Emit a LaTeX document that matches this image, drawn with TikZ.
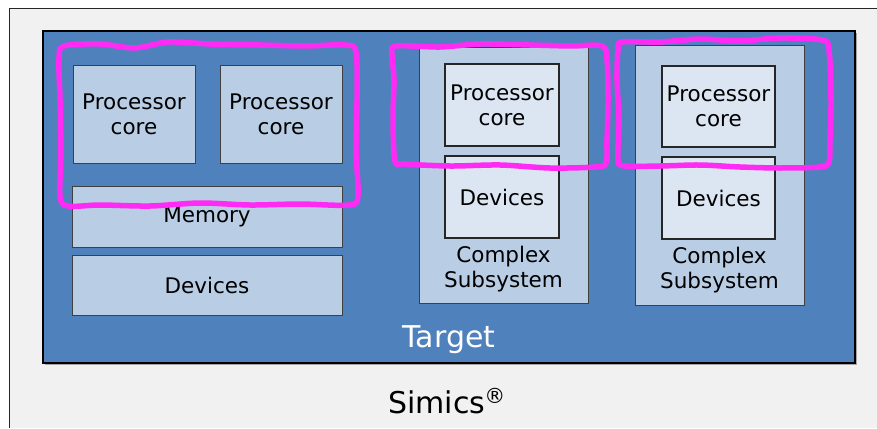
\documentclass[tikz,border=0pt]{standalone}
\usepackage{fontspec}
\setmainfont{DejaVu Sans}
\begin{document}
\begin{tikzpicture}[x=1pt,y=-1pt,
  every node/.style={font=\fontsize{21.5}{25}\selectfont, align=center, inner sep=0pt},
  lbox/.style={draw=black!75, line width=1pt, fill=boxlight},
  xbox/.style={draw=black!85, line width=1.4pt, fill=boxlighter},
  hand/.style={draw=handmag, line width=5.5pt, line join=round}
]
\definecolor{targetblue}{HTML}{4F81BD}
\definecolor{boxlight}{HTML}{B9CDE5}
\definecolor{boxlighter}{HTML}{DCE6F2}
\definecolor{outergray}{HTML}{F1F1F1}
\definecolor{handmag}{HTML}{FF2BF4}
\useasboundingbox (0,0) rectangle (877,428);
% outer Simics box
\fill[outergray] (9.5,8.5) rectangle (877,428);
\draw[line width=1.6pt, black!85] (877,8.5) -- (9.5,8.5) -- (9.5,428);
% target shadow and box
\fill[black!35] (45,33) rectangle (857,365);
\node[draw=black, line width=1.5pt, fill=targetblue, minimum width=812pt, minimum height=332pt] (target) at (449,197) {};
\node[text=white, font=\fontsize{30}{34}\selectfont, anchor=base] (targetlbl) at (449,347) {Target};
\node[font=\fontsize{30}{34}\selectfont, anchor=base] (simics) at (447,413) {Simics\kern-1pt\textsuperscript{\textregistered}};
% left group
\node[lbox, minimum width=122pt, minimum height=98pt] (pc1) at (134,114) {Processor\\core};
\node[lbox, minimum width=122pt, minimum height=98pt] (pc2) at (281,114) {Processor\\core};
\node[lbox, minimum width=270pt, minimum height=61pt] (mem) at (207,216.5) {Memory};
\node[lbox, minimum width=270pt, minimum height=60pt] (dev) at (207,285) {Devices};
% complex subsystem 1
\node[lbox, minimum width=169pt, minimum height=255pt] (cs1) at (503.5,175.5) {};
\node (cs1lbl) at (503.5,269) {Complex\\Subsystem};
\node[xbox, minimum width=114pt, minimum height=82pt] (cs1pc) at (502,105) {Processor\\core};
\node[xbox, minimum width=114pt, minimum height=82pt] (cs1dev) at (502,197) {Devices};
% complex subsystem 2
\node[lbox, minimum width=169pt, minimum height=259pt] (cs2) at (719.5,175.5) {};
\node (cs2lbl) at (719.5,270) {Complex\\Subsystem};
\node[xbox, minimum width=113pt, minimum height=81pt] (cs2pc) at (718.5,106.5) {Processor\\core};
\node[xbox, minimum width=113pt, minimum height=82pt] (cs2dev) at (718.5,198) {Devices};
% hand-drawn magenta loops
\draw[hand] plot[smooth cycle, tension=0.5] coordinates {
 (64,46) (100,44) (135,48) (168,42) (210,44) (260,45) (305,46) (345,45) (356,52)
 (357,100) (356,150) (358,195) (350,205) (300,204) (250,205) (200,203) (150,206)
 (100,205) (68,206) (60,196) (61,150) (60,100) (59,58)};
\draw[hand] plot[smooth cycle, tension=0.5] coordinates {
 (396,46) (440,47) (480,44) (530,45) (570,46) (602,46) (607,60)
 (608,100) (607,140) (606,163) (595,167) (550,168) (500,165) (450,166) (405,164) (395,161)
 (393,120) (394,80) (392,55)};
\draw[hand] plot[smooth cycle, tension=0.5] coordinates {
 (622,42) (660,42) (700,39) (740,41) (780,38) (822,40) (829,50)
 (831,100) (830,140) (829,162) (820,167) (780,168) (740,167) (700,165) (660,166) (625,166) (618,160)
 (619,120) (617,80) (618,50)};
\end{tikzpicture}
\end{document}
